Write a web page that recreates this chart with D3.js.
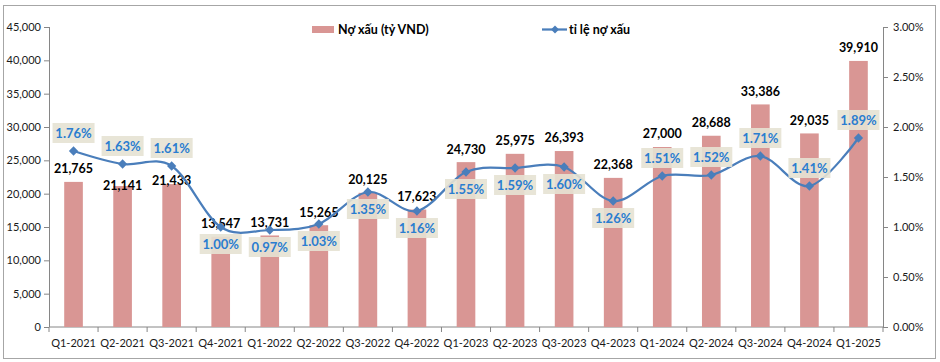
<!DOCTYPE html>
<html>
<head>
<meta charset="utf-8">
<script src="https://cdn.jsdelivr.net/npm/d3@7"></script>
<style>
  body { margin: 0; background: #fff; }
  svg text { font-family: Lato, "Liberation Sans", sans-serif; }
</style>
</head>
<body>
<div id="chart"></div>
<script>
// categories and values
var quarters = ["Q1-2021", "Q2-2021", "Q3-2021", "Q4-2021", "Q1-2022", "Q2-2022", "Q3-2022", "Q4-2022",
	"Q1-2023", "Q2-2023", "Q3-2023", "Q4-2023", "Q1-2024", "Q2-2024", "Q3-2024", "Q4-2024", "Q1-2025"];
var badDebt = [21765, 21141, 21433, 13547, 13731, 15265, 20125, 17623, 24730, 25975, 26393, 22368,
	27000, 28688, 33386, 29035, 39910];
var badDebtRatio = [1.76, 1.63, 1.61, 1.00, 0.97, 1.03, 1.35, 1.16, 1.55, 1.59, 1.60, 1.26,
	1.51, 1.52, 1.71, 1.41, 1.89];
var leftTicks = [0, 5000, 10000, 15000, 20000, 25000, 30000, 35000, 40000, 45000];
var rightTicks = [0, 0.5, 1.0, 1.5, 2.0, 2.5, 3.0];

// label placement (layout only): which side the % label sits on
var ratioLabelAbove = [true, true, true, false, false, false, false, false, false, false, false, false,
	true, true, true, true, true];
var valueLabelDy = [-13, 0, -3, -13, -13, -13, -13, -13, -13, -13, -13, -13, -13, -13, -13, -13, -13];

var width = 940, height = 362;
var margin = {top: 27, right: 57, bottom: 35, left: 49};

var svg = d3.select("#chart")
	.append("svg")
	.attr("width", width)
	.attr("height", height);

// outer frame
svg.append("rect")
	.attr("x", 3.5).attr("y", 5.5)
	.attr("width", 932).attr("height", 353)
	.attr("fill", "none")
	.attr("stroke", "#a6a6a6");

var x = d3.scalePoint()
	.domain(quarters)
	.range([margin.left, width - margin.right])
	.padding(0.5);
var step = x.step();
var barW = step * 0.38;

var yLeft = d3.scaleLinear().domain([0, 45000]).range([height - margin.bottom, margin.top]);
var yRight = d3.scaleLinear().domain([0, 3]).range([height - margin.bottom, margin.top]);

// left axis
var gl = svg.append("g")
	.attr("transform", "translate(" + margin.left + ",0)")
	.call(d3.axisLeft(yLeft).tickValues(leftTicks).tickSize(5).tickPadding(3).tickFormat(d3.format(",")));
// right axis
var gr = svg.append("g")
	.attr("transform", "translate(" + (width - margin.right) + ",0)")
	.call(d3.axisRight(yRight).tickValues(rightTicks).tickSize(5).tickPadding(5)
		.tickFormat(function(d) { return d.toFixed(2) + "%"; }));

// bottom axis: ticks sit between categories
var gb = svg.append("g")
	.attr("transform", "translate(0," + (height - margin.bottom) + ")");
gb.append("line")
	.attr("x1", margin.left).attr("x2", width - margin.right)
	.attr("stroke", "#868686");
gb.selectAll(".tk")
	.data(d3.range(quarters.length + 1))
	.enter()
	.append("line")
	.attr("x1", function(i) { return margin.left + i * step; })
	.attr("x2", function(i) { return margin.left + i * step; })
	.attr("y2", 5)
	.attr("stroke", "#868686");
gb.selectAll(".xl")
	.data(quarters)
	.enter()
	.append("text")
	.attr("x", function(d) { return x(d); })
	.attr("y", 20)
	.attr("text-anchor", "middle")
	.attr("font-size", 11)
	.attr("fill", "#1a1a1a")
	.text(function(d) { return d; });

[gl, gr].forEach(function(g) {
	g.select(".domain").attr("stroke", "#868686");
	g.selectAll(".tick line").attr("stroke", "#868686");
	g.selectAll(".tick text").attr("font-size", 11).attr("fill", "#1a1a1a")
		.style("font-family", "Lato, sans-serif");
});
gl.select(".domain").attr("d", "M0.5," + margin.top + "V" + (height - margin.bottom));
gr.select(".domain").attr("d", "M0.5," + margin.top + "V" + (height - margin.bottom));

// bars
svg.selectAll(".bar")
	.data(badDebt)
	.enter()
	.append("rect")
	.attr("class", "bar")
	.attr("x", function(d, i) { return x(quarters[i]) - barW / 2; })
	.attr("y", function(d) { return yLeft(d); })
	.attr("width", barW)
	.attr("height", function(d) { return yLeft(0) - yLeft(d); })
	.attr("fill", "#d99694");

// bar value labels
svg.selectAll(".vl")
	.data(badDebt)
	.enter()
	.append("text")
	.attr("x", function(d, i) { return x(quarters[i]); })
	.attr("y", function(d, i) { return yLeft(d) + valueLabelDy[i]; })
	.attr("dy", "0.35em")
	.attr("text-anchor", "middle")
	.attr("font-size", 12.5)
	.attr("font-weight", "bold")
	.attr("fill", "#000")
	.text(function(d) { return d3.format(",")(d); });

// ratio line, smoothed like the spreadsheet one
var line = d3.line()
	.x(function(d, i) { return x(quarters[i]); })
	.y(function(d) { return yRight(d); })
	.curve(d3.curveCardinal.tension(0));

svg.append("path")
	.datum(badDebtRatio)
	.attr("d", line)
	.attr("fill", "none")
	.attr("stroke", "#4a7ebb")
	.attr("stroke-width", 2.25);

var diamond = d3.symbol().type(d3.symbolDiamond2).size(55);
svg.selectAll(".mk")
	.data(badDebtRatio)
	.enter()
	.append("path")
	.attr("d", diamond)
	.attr("transform", function(d, i) {
		return "translate(" + x(quarters[i]) + "," + yRight(d) + ")";
	})
	.attr("fill", "#4a7ebb");

// ratio labels in boxes
var rl = svg.selectAll(".rl")
	.data(badDebtRatio)
	.enter()
	.append("g")
	.attr("transform", function(d, i) {
		var dy = ratioLabelAbove[i] ? -18 : 17;
		return "translate(" + x(quarters[i]) + "," + (yRight(d) + dy) + ")";
	});
rl.append("rect")
	.attr("x", -21).attr("y", -10)
	.attr("width", 42).attr("height", 20)
	.attr("fill", "#e6e2d3")
	.attr("fill-opacity", 0.9);
rl.append("text")
	.attr("dy", "0.36em")
	.attr("text-anchor", "middle")
	.attr("font-size", 13)
	.attr("font-weight", "bold")
	.attr("fill", "#2a7dd0")
	.text(function(d) { return d.toFixed(2) + "%"; });

// legend
var lg = svg.append("g");
lg.append("rect")
	.attr("x", 312).attr("y", 26)
	.attr("width", 22).attr("height", 7)
	.attr("fill", "#d99694");
lg.append("text")
	.attr("x", 338).attr("y", 30)
	.attr("dy", "0.35em")
	.attr("font-size", 12.5)
	.attr("font-weight", "bold")
	.attr("fill", "#000")
	.text("Nợ xấu (tỷ VND)");
lg.append("line")
	.attr("x1", 542).attr("x2", 567)
	.attr("y1", 29.5).attr("y2", 29.5)
	.attr("stroke", "#4a7ebb")
	.attr("stroke-width", 2.25);
lg.append("path")
	.attr("d", d3.symbol().type(d3.symbolDiamond2).size(40))
	.attr("transform", "translate(555,29.5)")
	.attr("fill", "#4a7ebb");
lg.append("text")
	.attr("x", 569).attr("y", 30)
	.attr("dy", "0.35em")
	.attr("font-size", 12.5)
	.attr("font-weight", "bold")
	.attr("fill", "#000")
	.text("tỉ lệ nợ xấu");
</script>
</body>
</html>
